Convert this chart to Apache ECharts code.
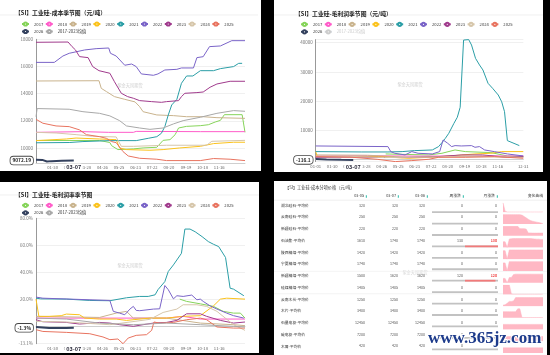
<!DOCTYPE html>
<html><head><meta charset="utf-8">
<script src="https://cdn.jsdelivr.net/npm/echarts@6/dist/echarts.min.js"></script>
<style>
html,body{margin:0;padding:0;background:#000;width:550px;height:355px;overflow:hidden;}
.p{position:absolute;background:#fff;}
#c1{left:0;top:0;width:261px;height:171px;}
#c2{left:274px;top:0;width:269px;height:172px;}
#c3{left:0;top:182px;width:259px;height:171px;}
#c4{left:274px;top:181px;width:273px;height:174px;}
</style></head><body>
<div id="c1" class="p"></div><div id="c2" class="p"></div><div id="c3" class="p"></div><div id="c4" class="p"></div>
<script>
const FONT = '"Noto Sans CJK SC","Liberation Sans",sans-serif';
// ---------- categories (one leap year of MM-DD) ----------
const monthLengths = [31,29,31,30,31,30,31,31,30,31,30,31];
const dates = [];
monthLengths.forEach((n,m)=>{for(let d=1;d<=n;d++) dates.push(String(m+1).padStart(2,'0')+'-'+String(d).padStart(2,'0'));});
const ticksShort = ['01-30','02-28','03-28','04-26','05-25','06-23','07-22','08-20','09-19','10-18','11-16'];
const ticksLong = ['01-01','01-30','02-28','03-28','04-26','05-25','06-23','07-22','08-20','09-19','10-18','11-16','12-31'];
const seriesNames = ['2017','2018','2019','2020','2021','2022','2023','2024','2025','2026','2017-2023均值'];
const palette = ['#86d45a','#ff5cc9','#c9b38d','#fbc21b','#2b9ea6','#7a64c8','#a03a8c','#d6c6aa','#e8735f','#34415e','#a8a8a8'];

// ---------- 成本 (元/吨) ----------
const cost2017 = [['01-01',10550],['04-21',10550],['05-09',10400],['05-12',10170],['05-23',9880],['06-19',9930],['07-06',10000],['07-30',10050],['08-10',10560],['08-22',10610],['08-31',10980],['09-06',11470],['09-20',11590],['10-14',11640],['10-28',11710],['11-09',11910],['11-18',12030],['11-25',12450],['12-26',12450],['12-31',11150]];
const cost2018 = [['01-01',11150],['03-23',11200],['05-07',11150],['06-19',11150],['06-24',11220],['10-14',11200],['12-31',11200]];
const cost2019 = [['01-01',14930],['04-20',14950],['04-24',14390],['05-03',14150],['05-17',13780],['06-04',13580],['06-22',13390],['06-30',13040],['07-06',12670],['07-30',12430],['08-28',12380],['09-20',12300],['10-19',12300],['11-12',12230],['12-31',12180]];
const cost2020 = [['01-01',10540],['02-23',10660],['03-11',10730],['04-21',10660],['05-20',10610],['05-26',10000],['06-07',9880],['07-18',9830],['08-10',9880],['09-08',10000],['10-14',10120],['11-06',10320],['12-11',10420],['12-31',10420]];
const cost2021 = [['01-01',10380],['02-28',10400],['03-23',10470],['05-09',10540],['06-24',10540],['07-15',10710],['07-30',10830],['08-07',11080],['08-13',11570],['08-19',12430],['08-25',13165],['09-03',13580],['09-11',14760],['09-20',15300],['10-01',15300],['10-14',15690],['11-06',15690],['11-18',15840],['12-11',15990],['12-20',16230],['12-26',16230]];
const cost2022 = [['01-01',16300],['02-02',16300],['02-17',16770],['02-28',16970],['03-26',17215],['04-15',17310],['05-07',17360],['05-10',16970],['05-20',16770],['06-04',16090],['06-16',16180],['06-24',15990],['07-03',15450],['07-24',15350],['08-01',15450],['08-13',15740],['09-03',15790],['09-11',15890],['10-02',15890],['10-08',16650],['10-19',16720],['10-30',17460],['11-18',17510],['12-08',17900],['12-31',17900]];
const cost2023 = [['01-01',17780],['02-26',17800],['03-04',17460],['03-10',17215],['03-17',16725],['04-01',16650],['04-09',15990],['04-20',15690],['05-09',15500],['05-17',14880],['05-29',14025],['06-09',13780],['06-19',13660],['06-30',13485],['07-21',13410],['08-07',13360],['08-16',13410],['09-06',13485],['09-11',13780],['09-17',14025],['10-08',14075],['10-19',14120],['10-31',14470],['11-12',14710],['12-05',14910],['12-31',14910]];
const cost2024 = [['01-01',11150],['02-05',11100],['03-11',10980],['04-09',10860],['05-20',10810],['05-29',10120],['06-19',10120],['08-16',10200],['10-25',10200],['11-03',10490],['12-31',10560]];
const cost2025 = [['01-01',12110],['01-13',11820],['02-05',11620],['02-28',11570],['03-17',11330],['03-29',10980],['04-21',10830],['05-03',10710],['05-12',10470],['05-20',10390],['06-01',9730],['06-10',9410],['06-30',9240],['07-30',9170],['08-16',9070],['10-14',9070],['11-06',9220],['12-05',9170],['12-31',9070]];
const cost2026 = [['01-01',9130],['01-12',9120],['01-20',9000],['01-28',9030],['02-15',9060],['03-07',9072.19]];
const costMean = [['01-01',12300],['01-03',12900],['01-06',12800],['02-28',12850],['03-23',12670],['04-21',12550],['05-09',12360],['05-26',12010],['06-07',11620],['06-30',11470],['07-18',11370],['08-10',11470],['08-28',11770],['09-14',12010],['10-14',12260],['11-12',12550],['12-11',12750],['12-31',12700]];

// ---------- 毛利润 (元/吨) ----------
const profit2017 = [['05-03',1940],['06-01',1800],['07-18',1600],['08-10',2170],['09-02',3300],['09-20',2740],['11-04',2400],['12-03',1250],['12-31',1030]];
const profit2018 = [['01-01',1250],['04-01',1300],['07-01',1200],['10-01',1250],['12-31',1250]];
const profit2019 = [['01-01',1600],['04-01',1500],['06-13',800],['09-01',1000],['12-31',900]];
const profit2020 = [['01-01',2700],['01-04',1030],['04-20',1030],['06-13',460],['08-10',1030],['10-07',1940],['11-04',2170],['11-23',2740],['12-31',2740]];
const profit2021 = [['01-01',2740],['03-22',2620],['05-07',2620],['06-01',2740],['06-23',3080],['07-24',3300],['08-04',4450],['08-10',5800],['08-16',7300],['08-22',9000],['08-31',12400],['09-06',14500],['09-11',17900],['09-17',40900],['09-26',41060],['10-01',39200],['10-08',34650],['10-15',32380],['10-21',30670],['10-30',26100],['11-07',24400],['11-17',22100],['11-23',19800],['11-28',16400],['12-03',6500],['12-24',4800]];
const profit2022 = [['01-01',4670],['05-07',4450],['05-12',2740],['05-19',2170],['06-06',1600],['06-18',2740],['06-29',2170],['07-24',1940],['08-06',2740],['08-12',6730],['08-20',5600],['08-27',4450],['09-02',4790],['09-13',4670],['10-01',4790],['10-07',4220],['10-15',4450],['10-24',3300],['11-10',2740],['12-03',1940],['12-31',1250]];
const profit2023 = [['01-01',800],['03-01',900],['06-01',700],['08-01',1000],['09-14',1600],['10-20',1600],['12-03',800],['12-31',1000]];
const profit2024 = [['01-01',1200],['03-01',1100],['05-01',700],['08-01',900],['10-01',1300],['12-31',700]];
const profit2025 = [['01-01',1030],['03-05',800],['04-18',110],['05-20',-680],['06-18',-340],['07-18',110],['08-04',800],['09-20',800],['11-10',1030],['12-31',460]];
const profit2026 = [['01-01',200],['01-20',50],['02-15',-50],['03-07',-116.1]];
const profitMean = [['01-01',2200],['05-01',2000],['08-01',2300],['09-20',6500],['11-01',5000],['12-31',1800]];

// ---------- 毛利润率 (%) ----------
const margin2017 = [['09-08',20],['09-20',18.3],['10-14',16.5],['11-06',14.6],['11-23',10.9],['12-11',9.6],['12-23',9.6],['12-31',5.9]];
const margin2018 = [['01-01',5.9],['08-16',5.9],['09-14',7.2],['10-14',5.2],['12-31',5.2]];
const margin2019 = [['01-01',7.2],['04-21',6.4],['05-20',9.6],['06-07',10.9],['06-19',5.9],['08-16',5.9],['10-14',2.2],['12-11',1],['12-31',0.3]];
const margin2020 = [['01-01',20],['01-06',7.2],['01-24',7.2],['02-14',7.7],['02-23',8.9],['03-17',8.4],['03-26',5.9],['04-21',5.2],['05-20',5.2],['06-07',4.2],['07-18',5.9],['08-16',5.9],['09-14',7.2],['10-14',7.7],['11-06',15],['11-18',20],['11-29',20.7],['12-31',20]];
const margin2021 = [['01-01',20.7],['01-09',20.2],['02-23',20],['04-04',19],['05-09',18.8],['05-12',20],['06-07',21],['06-30',22],['07-15',22],['07-27',23.2],['08-01',27],['08-13',33],['08-19',40.5],['08-28',45.4],['09-11',54],['09-17',72],['09-26',72],['10-05',70],['10-17',66.4],['10-28',62.7],['11-06',60.7],['11-15',59],['11-27',50.9],['12-05',28.1],['12-11',27.4],['12-29',22.5]];
const margin2022 = [['01-01',21.5],['01-13',20.7],['05-09',19],['05-15',10.9],['05-26',9.6],['06-04',8.4],['06-13',12.6],['06-19',14.6],['06-24',11.6],['06-30',11.4],['07-24',12.6],['08-04',12.8],['08-13',30.1],['08-19',27],['08-28',20.2],['09-03',22.5],['09-14',22],['09-29',23],['10-08',19.5],['10-14',20],['10-19',18.3],['10-31',15],['11-12',12.6],['11-29',9.6],['12-11',7.7],['12-29',5.9]];
const margin2023 = [['01-01',4.7],['01-13',3.2],['02-23',2.7],['03-17',1.5],['04-09',2.2],['04-21',2.7],['05-09',2.2],['05-26',1],['06-19',-0.2],['07-06',1],['07-24',2.2],['08-16',2.7],['09-03',4.2],['09-20',9.1],['10-14',9.1],['10-25',7.2],['11-18',4.2],['12-11',2.2],['12-31',3]];
const margin2024 = [['01-01',3.5],['02-23',3],['05-09',1],['07-18',5],['08-10',10.1],['09-03',12.6],['09-14',15.8],['10-08',15.8],['10-25',14.6],['11-12',10.9],['12-11',1],['12-31',-3.2]];
const margin2025 = [['01-01',-2.7],['01-13',-4],['02-23',-4.7],['04-04',-5.7],['04-27',-8.1],['05-09',-10.1],['05-23',-9.6],['06-01',-13.1],['06-10',-8.9],['06-24',-6.9],['07-12',-6.4],['07-21',-3.2],['07-25',3],['08-04',2.2],['08-28',2.7],['09-20',4.7],['10-14',5.9],['10-25',4.7],['11-12',-0.7],['12-11',-1.5],['12-31',-1.5]];
const margin2026 = [['01-01',-0.7],['01-24',-1.5],['02-23',-1.5],['03-07',-1.3]];
const marginMean = [['01-01',5.9],['02-23',5.2],['04-21',2.2],['06-19',1],['08-16',2.2],['10-14',1],['12-11',-0.2],['12-31',-0.7]];

// ---------- 成本分项价格表 ----------
const priceItems = ['湖北硅石-平均价','云南硅石-平均价','新疆硅石-平均价','石油焦-平均价','陕西精煤-平均价','宁夏精煤-平均价','新疆精煤-平均价','硅煤精煤-平均价','云南木炭-平均价','木片-平均价','石墨电极-平均价','碳电极-平均价','木屑-平均价'];
const priceHeaders = ['03-05','03-07','03-06','周涨跌','月涨跌','变化曲线'];
const priceA = [320,250,220,1610,1420,1740,1500,1405,1250,3400,12450,7200,420];
const priceB = [320,250,220,1740,1420,1740,1620,1405,1250,3400,12450,7200,420];
const priceC = [320,250,220,1740,1420,1740,1620,1405,1250,3400,12450,7200,420];
const weekChg = [0,0,0,130,0,0,120,0,0,0,0,0,0];
const monthChg = [0,0,0,130,0,0,120,0,0,0,0,0,0];
const spark01 = [1,0.12,0.03,0.03,0.03,0.03,0.03,0.03,0.03,0.03,0.03,0.03,0.03,0.03,0.03,0.03,0.03,0.03,0.03,0.03];
const spark02 = [1,1,1,1,1,1,1,1,1,0.95,0.8,0.65,0.5,0.38,0.3,0.25,0.2,0.15,0.1,0.05];
const spark03 = [1,1,1,1,1,1,1,1,0.75,0.75,0.75,0.7,0.3,0.3,0.28,0.28,0.28,0.28,0.28,0.28];
const spark04 = [0.6,0.6,0,0.9,0.92,0.95,0.95,0.95,0.95,0.95,0.95,0.95,0.95,0.95,0.92,0.9,0.88,0.88,0.85,0.85];
const spark05 = [0.9,0.9,0,1,1,1,1,1,1,1,1,1,1,1,1,1,1,1,1,1];
const spark06 = [0.85,0.85,0,1,1,1,1,1,1,1,1,1,1,1,1,1,1,1,1,1];
const spark07 = [0.45,0.45,0,0.55,0.55,0.85,0.9,0.9,0.9,0.9,0.9,0.9,0.9,0.9,0.9,0.9,0.9,0.9,0.9,0.9];
const spark08 = [1,1,1,1,0.05,0.02,0.02,0.02,0.02,0.02,0.02,0.02,0.02,0.02,0.02,0.02,0.02,0.02,0.02,0.02];
const spark09 = [0.1,0.15,0.3,0.5,0.5,0.55,0.9,0.9,0.9,0.9,0.9,0.9,0.9,0.9,0.9,0.9,0.9,0.9,0.9,0.9];
const spark10 = [0.65,0.65,0.65,0.65,0.65,0.65,0.65,0.95,0.95,0.03,0.03,0.03,0.03,0.03,0.03,0.03,0.03,0.03,0.03,0.03];
const spark11 = [0.55,0.55,0.55,0.55,0.55,0.55,0.55,0.55,0.55,0.55,0.55,0.55,0.55,0.55,0.55,0.55,0.55,0.55,0.55,0.55];
const spark12 = [0.5,0.5,0.5,0.5,0.5,0.5,0.5,0.5,0.5,0.5,0.5,0.5,0.5,0.5,0.5,0.5,0.5,0.5,0.5,0.5];
const spark13 = [0.55,0.55,0.55,0.55,0.55,0.55,0.55,0.55,0.55,0.55,0.55,0.55,0.55,0.55,0.55,0.55,0.55,0.55,0.55,0.55];
const sparkSteps = ['1','2','3','4','5','6','7','8','9','10','11','12','13','14','15','16','17','18','19','20'];

// ---------- helpers ----------
function lineSeries(list){
  return list.map((d,i)=>({name:seriesNames[i],type:'line',data:d,symbol:'emptyCircle',symbolSize:3,showSymbol:false,
    lineStyle:{width:i===9?2:1,color:palette[i]},itemStyle:{color:palette[i]},emphasis:{disabled:true},z:i===9?5:2}));
}
function seasonal(c){
  return {
    animation:false,
    textStyle:{fontFamily:FONT},
    title:{text:c.title,left:c.tl[0],top:c.tl[1],textStyle:{fontSize:5.8,fontWeight:'bold',color:'#222',fontFamily:FONT}},
    legend:{data:seriesNames,left:c.lg[0],top:c.lg[1],width:c.lw,itemWidth:7,itemHeight:4,itemGap:1.5,
      textStyle:{fontSize:4.2,color:'#333',lineHeight:6,fontFamily:FONT},selected:c.selected||{},inactiveColor:'#ccc'},
    grid:{left:c.grid[0],top:c.grid[1],width:c.grid[2],height:c.grid[3],outerBoundsMode:'none'},
    xAxis:{type:'category',data:dates,boundaryGap:false,axisTick:{show:false},
      axisLine:{lineStyle:{color:'#cfcfcf'}},
      axisLabel:{interval:(i,v)=>c.ticks.includes(v),fontSize:4.2,color:'#666',margin:2.5,fontFamily:FONT},
      splitLine:{show:false},
      axisPointer:{show:true,value:dates.indexOf(c.pointerDate),status:'show',triggerTooltip:false,lineStyle:{opacity:0},
        label:{show:true,fontSize:5.5,fontWeight:'bold',color:'#2b2b3b',backgroundColor:'#fff',padding:[1,1.5],margin:1.5,fontFamily:FONT}}},
    yAxis:{type:'value',min:c.min,max:c.max,splitNumber:5,axisLine:{show:true,lineStyle:{color:'#999'}},axisTick:{show:false},
      axisLabel:{fontSize:4.5,color:'#777',margin:3,formatter:c.fmt,fontFamily:FONT},
      splitLine:{lineStyle:{color:'#e6e6e6',width:0.6}},
      axisPointer:{show:true,value:c.pointerValue,status:'show',triggerTooltip:false,lineStyle:{opacity:0},
        label:{show:true,formatter:p=>c.pfmt(p.value),fontSize:4.8,fontWeight:'bold',color:'#222',backgroundColor:'#fff',
          borderColor:'#444',borderWidth:0.8,padding:[1.5,2],fontFamily:FONT}}},
    graphic:[
      {type:'line',shape:{x1:0,y1:c.line,x2:c.w,y2:c.line},style:{stroke:'#e6e6e6',lineWidth:0.6},silent:true},
      {type:'text',x:c.wm[0],y:c.wm[1],style:{text:'紫金天风期货',fill:'#cfcfcf',fontSize:4.2,align:'center',verticalAlign:'middle',fontFamily:FONT},silent:true,z:-1}
    ],
    series:lineSeries(c.data)
  };
}
const last = a => a[a.length-1][1];

// ---------- chart 1: 成本 ----------
echarts.init(document.getElementById('c1')).setOption(seasonal({
  title:'【SI】工业硅-成本季节图（元/吨）',tl:[10,5.3],lg:[16,16],lw:236,grid:[36,39.3,209,124],
  ticks:ticksShort,pointerDate:'03-07',pointerValue:last(cost2026),min:8870,max:18000,
  fmt:v=>String(v),pfmt:v=>String(+(+v).toFixed(2)),line:15,w:258,wm:[130,85],
  data:[cost2017,cost2018,cost2019,cost2020,cost2021,cost2022,cost2023,cost2024,cost2025,cost2026,costMean]
}));
// ---------- chart 2: 毛利润 ----------
echarts.init(document.getElementById('c2')).setOption(seasonal({
  title:'【SI】工业硅-毛利润季节图（元/吨）',tl:[16,6],lg:[21,16.3],lw:228,grid:[41.7,39.6,207.6,122],
  ticks:ticksLong,pointerDate:'03-07',pointerValue:last(profit2026),min:'dataMin',max:'dataMax',
  fmt:v=>String(v),pfmt:v=>String(+(+v).toFixed(1)),line:15,w:269,wm:[136,84],
  selected:{'2017-2023均值':false},
  data:[profit2017,profit2018,profit2019,profit2020,profit2021,profit2022,profit2023,profit2024,profit2025,profit2026,profitMean]
}));
// ---------- chart 3: 毛利润率 ----------
echarts.init(document.getElementById('c3')).setOption(seasonal({
  title:'【SI】工业硅-毛利润率季节图',tl:[10,5.3],lg:[16,15.3],lw:236,grid:[36,36.3,209,125.4],
  ticks:ticksShort,pointerDate:'03-07',pointerValue:last(margin2026),min:'dataMin',max:80,
  fmt:v=>(+v).toFixed(1)+'%',pfmt:v=>(+v).toFixed(1)+'%',line:13,w:259,wm:[130,83],
  data:[margin2017,margin2018,margin2019,margin2020,margin2021,margin2022,margin2023,margin2024,margin2025,margin2026,marginMean]
}));

// ---------- chart 4: 成本分项价格 ----------
const sparkData = [spark01,spark02,spark03,spark04,spark05,spark06,spark07,spark08,spark09,spark10,spark11,spark12,spark13];
const rowY = i => 24.3 + 11.73*i;
const colRight = [91,124,151,189,223];
const headRight = [90,122,151,187,221,269];
const gfx = [];
gfx.push({type:'text',x:11,y:6,style:{text:'【SI】工业硅-成本分项价格（元/吨）',fontSize:4.2,fill:'#333',verticalAlign:'middle',fontFamily:FONT}});
priceHeaders.forEach((h,j)=>{
  gfx.push({type:'text',x:headRight[j],y:14.7,style:{text:h,fontSize:3.8,fill:'#333',align:'right',verticalAlign:'middle',fontFamily:FONT}});
  if(j<5) gfx.push({type:'rect',shape:{x:headRight[j]+1.8,y:14.2,width:1.1,height:2.6},style:{fill:'#3cc0b0'}});
});
gfx.push({type:'line',shape:{x1:0,y1:19.2,x2:273,y2:19.2},style:{stroke:'#e4e4e4',lineWidth:0.6}});
gfx.push({type:'line',shape:{x1:0,y1:90.3,x2:273,y2:90.3},style:{stroke:'#ececec',lineWidth:0.6}});
gfx.push({type:'line',shape:{x1:0,y1:112.7,x2:273,y2:112.7},style:{stroke:'#ececec',lineWidth:0.6}});
priceItems.forEach((name,i)=>{
  const y = rowY(i);
  gfx.push({type:'text',x:7,y:y,style:{text:name,fontSize:3.8,fill:'#333',verticalAlign:'middle',fontFamily:FONT}});
  [priceA[i],priceB[i],priceC[i],weekChg[i],monthChg[i]].forEach((v,j)=>{
    const red = j===4 && v>0;
    gfx.push({type:'text',x:colRight[j],y:y,style:{text:String(v),fontSize:3.6,fill:red?'#f04545':'#555',fontWeight:red?'bold':'normal',align:'right',verticalAlign:'middle',fontFamily:FONT}});
  });
});
gfx.push({type:'text',x:141,y:91,style:{text:'紫金天风期货',fill:'#d8d8d8',fontSize:4.2,align:'center',verticalAlign:'middle',fontFamily:FONT},z:-1});
gfx.push({type:'text',x:154,y:158,z:100,style:{text:'www.365jz.com',fontSize:17,fontWeight:'bold',fontFamily:'"Liberation Serif","DejaVu Serif",serif',fill:'#1d3b8b',stroke:'#fff',lineWidth:2,verticalAlign:'middle'}});

const grids4 = [{left:158,top:25.4,width:66,height:152.5}];
const xAxes4 = [{gridIndex:0,type:'value',show:false,min:v=>-Math.max(Math.abs(v.min),Math.abs(v.max)),max:v=>Math.max(Math.abs(v.min),Math.abs(v.max))}];
const yAxes4 = [{gridIndex:0,type:'category',data:priceItems,inverse:true,show:false}];
const series4 = [{type:'bar',xAxisIndex:0,yAxisIndex:0,data:weekChg,barWidth:1.8,showBackground:true,backgroundStyle:{color:'#c2c2c2'},itemStyle:{color:'#f27a7a'},silent:true}];
sparkData.forEach((d,i)=>{
  const g = i+1;
  grids4.push({left:229,top:rowY(i)-2.5,width:40,height:9.5});
  xAxes4.push({gridIndex:g,type:'category',data:sparkSteps,boundaryGap:false,show:false});
  yAxes4.push({gridIndex:g,type:'value',min:0,max:1,show:false});
  series4.push({type:'line',xAxisIndex:g,yAxisIndex:g,data:d,symbol:'none',lineStyle:{width:0.5,color:'#ffb0be'},areaStyle:{color:'#ffb8c4',opacity:1},silent:true});
});
echarts.init(document.getElementById('c4')).setOption({
  animation:false,textStyle:{fontFamily:FONT},
  grid:grids4,xAxis:xAxes4,yAxis:yAxes4,series:series4,graphic:gfx
});
</script></body></html>
